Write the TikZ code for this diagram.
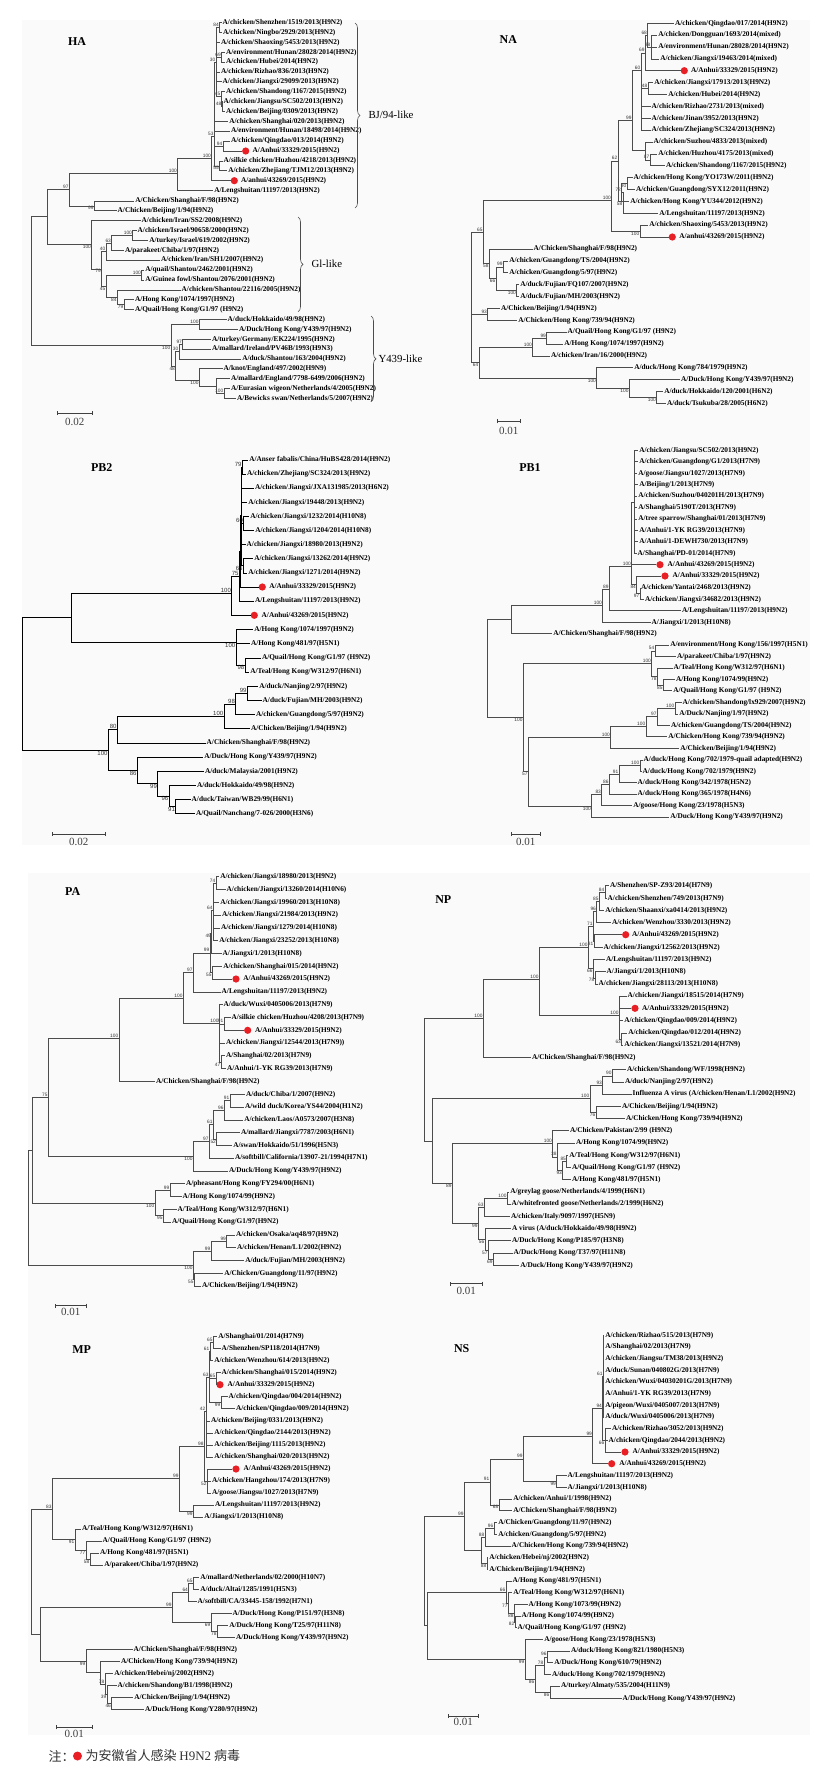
\documentclass[tikz,border=0pt]{standalone}
\usepackage{fontspec}
\setmainfont{Liberation Serif}
\setsansfont{Liberation Sans}
\newfontfamily\cjk{Noto Sans CJK SC}
\usetikzlibrary{arrows.meta,decorations.pathreplacing}
\definecolor{dotred}{RGB}{232,32,38}
\definecolor{panelbg}{RGB}{250,250,250}
\tikzset{
  lbl/.style={anchor=west,inner xsep=0.8pt,inner ysep=0.4pt,font=\bfseries\fontsize{7.3}{8}\selectfont},
  reddot/.style={circle,fill=dotred,inner sep=0pt,minimum size=7.2pt},
  brch/.style={draw=black!70,line width=0.6pt},
  bs/.style={font=\sffamily\fontsize{4.8}{5}\selectfont,inner sep=0.6pt,text=black!80},
  bsa/.style={label={[bs]above left:#1}},
  bsb/.style={label={[bs]below left:#1}},
  ptitle/.style={font=\bfseries\fontsize{12}{14}\selectfont},
  clade/.style={anchor=west,font=\fontsize{10.8}{12}\selectfont},
  brc/.style={draw=black!70,line width=0.6pt,decorate,decoration={brace,amplitude=5pt}},
  sbar/.style={draw=black!75,line width=0.8pt,arrows={Bar[width=4pt]-Bar[width=4pt]}},
  sblbl/.style={font=\fontsize{11}{12}\selectfont,text=black!75},
}
% leaf, red-dot leaf, inner node, branches, scale bar
\newcommand\lf[4]{\node[lbl] (#1) at (#2,#3) {#4};}
\newcommand\rdl[5]{\node[reddot] (#1) at (#2,#4) {};\node[lbl] (#1t) at (#3,#4) {#5};}
\newcommand\nd[4]{\coordinate[#4] (#1) at (#2,#3);}
\newcommand\br[2]{\foreach \kid in {#2}{\draw[brch] (#1) |- (\kid);}}
\newcommand\sbr[6]{\coordinate (#1a) at (#2,#4);\coordinate (#1b) at (#3,#4);
  \draw[sbar] (#1a) -- (#1b);\node[sblbl] (#1l) at ({(#2+#3)/2},#5) {#6};}

\begin{document}
\begin{tikzpicture}[x=1pt,y=-1pt]
\useasboundingbox (0,0) rectangle (833,1775);
\fill[panelbg] (22,20) rectangle (810,845);
\fill[panelbg] (27.7,873) rectangle (810,1735);

%% HA
\node[ptitle] (haT) at (77,42) {HA};
\lf{ha1}{221.7}{22.7}{A/chicken/Shenzhen/1519/2013(H9N2)}
\lf{ha2}{222}{32.3}{A/chicken/Ningbo/2929/2013(H9N2)}
\lf{ha3}{220}{42.3}{A/chicken/Shaoxing/5453/2013(H9N2)}
\lf{ha4}{225}{52.3}{A/environment/Hunan/28028/2014(H9N2)}
\lf{ha5}{225}{62}{A/chicken/Hubei/2014(H9N2)}
\lf{ha6}{220}{72}{A/chicken/Rizhao/836/2013(H9N2)}
\lf{ha7}{221.7}{81.7}{A/chicken/Jiangxi/29099/2013(H9N2)}
\lf{ha8}{225}{91.7}{A/chicken/Shandong/1167/2015(H9N2)}
\lf{ha9}{222.7}{101.3}{A/chicken/Jiangsu/SC502/2013(H9N2)}
\lf{ha10}{225}{111.3}{A/chicken/Beijing/0309/2013(H9N2)}
\lf{ha11}{228.3}{121.3}{A/chicken/Shanghai/020/2013(H9N2)}
\lf{ha12}{230}{131}{A/environment/Hunan/18498/2014(H9N2)}
\lf{ha13}{230}{141}{A/chicken/Qingdao/013/2014(H9N2)}
\rdl{ha14}{245.7}{251.7}{151}{A/Anhui/33329/2015(H9N2)}
\lf{ha15}{222.7}{161}{A/silkie chicken/Huzhou/4218/2013(H9N2)}
\lf{ha16}{227.3}{170.7}{A/chicken/Zhejiang/TJM12/2013(H9N2)}
\rdl{ha17}{234.3}{240}{180.7}{A/anhui/43269/2015(H9N2)}
\lf{ha18}{213.3}{190.7}{A/Lengshuitan/11197/2013(H9N2)}
\lf{ha19}{134.3}{201}{A/Chicken/Shanghai/F/98(H9N2)}
\lf{ha20}{116.7}{210.7}{A/Chicken/Beijing/1/94(H9N2)}
\lf{ha21}{140.7}{220.7}{A/chicken/Iran/SS2/2008(H9N2)}
\lf{ha22}{136.7}{230.7}{A/chicken/Israel/90658/2000(H9N2)}
\lf{ha23}{148.3}{240.3}{A/turkey/Israel/619/2002(H9N2)}
\lf{ha24}{124}{250.3}{A/parakeet/Chiba/1/97(H9N2)}
\lf{ha25}{160}{260}{A/chicken/Iran/SH1/2007(H9N2)}
\lf{ha26}{144.3}{270}{A/quail/Shantou/2462/2001(H9N2)}
\lf{ha27}{144.3}{280}{A/Guinea fowl/Shantou/2076/2001(H9N2)}
\lf{ha28}{180.7}{290}{A/chicken/Shantou/22116/2005(H9N2)}
\lf{ha29}{134}{299.7}{A/Hong Kong/1074/1997(H9N2)}
\lf{ha30}{134}{309.7}{A/Quail/Hong Kong/G1/97 (H9N2)}
\lf{ha31}{226.7}{319.3}{A/duck/Hokkaido/49/98(H9N2)}
\lf{ha32}{238}{329.3}{A/Duck/Hong Kong/Y439/97(H9N2)}
\lf{ha33}{211}{339.3}{A/turkey/Germany/EK224/1995(H9N2)}
\lf{ha34}{211}{349}{A/mallard/Ireland/PV46B/1993(H9N3)}
\lf{ha35}{241.3}{359}{A/duck/Shantou/163/2004(H9N2)}
\lf{ha36}{222.7}{368.7}{A/knot/England/497/2002(H9N9)}
\lf{ha37}{230}{378.7}{A/mallard/England/7798-6499/2006(H9N2)}
\lf{ha38}{230}{388.7}{A/Eurasian wigeon/Netherlands/4/2005(H9N2)}
\lf{ha39}{236}{398.7}{A/Bewicks swan/Netherlands/5/2007(H9N2)}
\nd{hR}{31}{281}{}
\nd{hA}{47.7}{216.7}{}
\nd{hB}{69.3}{189.3}{bsa=97}
\nd{hC}{177.7}{173.3}{bsa=100}
\nd{hD}{94.3}{205.8}{bsb=99}
\nd{hE}{211.7}{158.3}{bsa=100}
\nd{hF}{214.3}{136}{bsa=53}
\nd{hK}{216}{62}{bsa=30}
\nd{hG}{219.5}{27.5}{bsa=84}
\nd{hH}{221.5}{57.2}{bsa=69}
\nd{hI}{221}{96.5}{bsa=45}
\nd{hJ}{222}{106.3}{bsa=48}
\nd{hM}{223}{146}{bsa=94}
\nd{hL}{219.5}{165.8}{bsb=55}
\nd{hGI}{91.7}{244.3}{bsb=100}
\nd{hO1}{132.7}{235.5}{bsa=100}
\nd{hO2}{111.7}{243}{bsa=63}
\nd{hO3}{106}{251.5}{bsa=40}
\nd{hO4}{101.7}{268.8}{bsb=79}
\nd{hO5}{106}{286}{bsb=45}
\nd{hO6}{124}{304.7}{bsb=79}
\nd{hO7}{117.3}{297.3}{bsb=84}
\nd{hO8}{141.7}{275}{bsa=100}
\nd{hY}{171}{345}{bsb=100}
\nd{hY1}{199.3}{324.3}{bsa=100}
\nd{hY2}{182.7}{344.2}{bsa=97}
\nd{hY3}{179}{351.6}{bsa=30}
\nd{hYb}{175.7}{366}{bsb=48}
\nd{hY5}{199.3}{380}{bsb=100}
\nd{hY6}{216.7}{386}{}
\nd{hY7}{224}{393.7}{bsa=100}
\br{hR}{hA,hY}
\br{hA}{hB,hGI}
\br{hB}{hC,hD}
\br{hC}{hE,ha18}
\br{hD}{ha19,ha20}
\br{hE}{hF,ha17}
\br{hF}{hK,ha11,ha12,hM,hL}
\br{hK}{hG,ha3,hH,ha6,ha7,hI}
\br{hG}{ha1,ha2}
\br{hH}{ha4,ha5}
\br{hI}{ha8,hJ}
\br{hJ}{ha9,ha10}
\br{hM}{ha13,ha14}
\br{hL}{ha15,ha16}
\br{hGI}{ha21,hO4}
\br{hO4}{hO3,hO5}
\br{hO3}{hO2,ha25}
\br{hO2}{hO1,ha24}
\br{hO1}{ha22,ha23}
\br{hO5}{hO8,hO7}
\br{hO8}{ha26,ha27}
\br{hO7}{ha28,hO6}
\br{hO6}{ha29,ha30}
\br{hY}{hY1,hYb}
\br{hY1}{ha31,ha32}
\br{hYb}{hY3,hY5}
\br{hY3}{hY2,ha35}
\br{hY2}{ha33,ha34}
\br{hY5}{ha36,hY6}
\br{hY6}{ha37,hY7}
\br{hY7}{ha38,ha39}
\coordinate (bjA) at (355,23); \coordinate (bjB) at (355,208);
\draw[brc] (bjA) -- (bjB);
\node[clade] (bjL) at (365,115) {BJ/94-like};
\coordinate (giA) at (298,217); \coordinate (giB) at (298,311.7);
\draw[brc] (giA) -- (giB);
\node[clade] (giL) at (308,264.3) {Gl-like};
\coordinate (yA) at (371,316); \coordinate (yB) at (371,401.7);
\draw[brc] (yA) -- (yB);
\node[clade] (yL) at (375,359) {Y439-like};
\sbr{haS}{57.3}{92.3}{413}{422.3}{0.02}

%% NA
\node[ptitle] (naT) at (508.3,39.3) {NA};
\lf{na1}{674}{23.3}{A/chicken/Qingdao/017/2014(H9N2)}
\lf{na2}{657.3}{35}{A/chicken/Dongguan/1693/2014(mixed)}
\lf{na3}{657.3}{47}{A/environment/Hunan/28028/2014(H9N2)}
\lf{na4}{659.3}{59}{A/chicken/Jiangxi/19463/2014(mixed)}
\rdl{na5}{684.3}{690}{70.7}{A/Anhui/33329/2015(H9N2)}
\lf{na6}{653.3}{82.3}{A/chicken/Jiangxi/17913/2013(H9N2)}
\lf{na7}{667.3}{94.7}{A/chicken/Hubei/2014(H9N2)}
\lf{na8}{650.7}{106.7}{A/chicken/Rizhao/2731/2013(mixed)}
\lf{na9}{650.7}{118.3}{A/chicken/Jinan/3952/2013(H9N2)}
\lf{na10}{650.7}{130}{A/chicken/Zhejiang/SC324/2013(H9N2)}
\lf{na11}{652.7}{142}{A/chicken/Suzhou/4833/2013(mixed)}
\lf{na12}{657.3}{154}{A/chicken/Huzhou/4175/2013(mixed)}
\lf{na13}{665}{165.7}{A/chicken/Shandong/1167/2015(H9N2)}
\lf{na14}{632.7}{177.7}{A/chicken/Hong Kong/YO173W/2011(H9N2)}
\lf{na15}{635}{189.7}{A/chicken/Guangdong/SYX12/2011(H9N2)}
\lf{na16}{629.3}{201.7}{A/chicken/Hong Kong/YU344/2012(H9N2)}
\lf{na17}{658.3}{213.3}{A/Lengshuitan/11197/2013(H9N2)}
\lf{na18}{648.3}{225}{A/chicken/Shaoxing/5453/2013(H9N2)}
\rdl{na19}{672.3}{678.3}{237}{A/anhui/43269/2015(H9N2)}
\lf{na20}{532.7}{249}{A/Chicken/Shanghai/F/98(H9N2)}
\lf{na21}{508.3}{261}{A/chicken/Guangdong/TS/2004(H9N2)}
\lf{na22}{508.3}{272.7}{A/chicken/Guangdong/5/97(H9N2)}
\lf{na23}{519.3}{284.3}{A/duck/Fujian/FQ107/2007(H9N2)}
\lf{na24}{519.3}{296.3}{A/duck/Fujian/MH/2003(H9N2)}
\lf{na25}{500}{308.3}{A/Chicken/Beijing/1/94(H9N2)}
\lf{na26}{517.3}{320.3}{A/Chicken/Hong Kong/739/94(H9N2)}
\lf{na27}{566.7}{332}{A/Quail/Hong Kong/G1/97 (H9N2)}
\lf{na28}{563.3}{344}{A/Hong Kong/1074/1997(H9N2)}
\lf{na29}{550}{356}{A/chicken/Iran/16/2000(H9N2)}
\lf{na30}{633.3}{367.7}{A/duck/Hong Kong/784/1979(H9N2)}
\lf{na31}{680}{379.7}{A/Duck/Hong Kong/Y439/97(H9N2)}
\lf{na32}{663.3}{391.7}{A/duck/Hokkaido/120/2001(H6N2)}
\lf{na33}{666}{403.3}{A/duck/Tsukuba/28/2005(H6N2)}
\nd{nR}{471.7}{300}{}
\nd{nP1}{483.3}{232}{bsa=65}
\nd{nQ1}{611.7}{200}{bsa=100}
\nd{nS1}{618}{160.8}{bsa=62}
\nd{nT2}{632.3}{120}{bsa=99}
\nd{nU1}{641}{70}{bsa=60}
\nd{nU6}{645.3}{52.8}{bsa=69}
\nd{nU4}{647.7}{35}{bsa=68}
\nd{nU5}{651}{47}{bsa=98}
\nd{nU7}{648}{88.5}{bsa=48}
\nd{nU2}{645}{150}{}
\nd{nU3}{650}{159.8}{bsa=87}
\nd{nT4}{623}{201.7}{bsb=58}
\nd{nT3}{621.7}{192.7}{bsa=72}
\nd{nT5}{627}{183.7}{bsb=90}
\nd{nS2}{640}{231}{bsb=100}
\nd{nQ2}{489.3}{263.7}{bsb=58}
\nd{nQ3}{496}{278.5}{bsb=66}
\nd{nQ4}{503.3}{266.8}{bsa=99}
\nd{nQ5}{516.7}{290.3}{bsb=100}
\nd{nP5}{487.7}{314.3}{bsa=93}
\nd{nP2}{479}{362.5}{bsb=64}
\nd{nP3}{532.7}{347}{bsa=100}
\nd{nP6}{546.7}{338}{bsa=99}
\nd{nP4}{596.7}{378.2}{bsb=100}
\nd{nP7}{629.3}{388.6}{bsb=100}
\nd{nP8}{656.7}{397.5}{bsb=100}
\br{nR}{nP1,nP5,nP2}
\br{nP1}{nQ1,nQ2}
\br{nQ1}{nS1,nS2}
\br{nS1}{nT2,nT4}
\br{nT2}{nU1,nU2}
\br{nU1}{nU6,nU7,na8,na9,na10}
\br{nU6}{nU4,na5}
\br{nU4}{na1,nU5}
\br{nU5}{na2,na3,na4}
\br{nU7}{na6,na7}
\br{nU2}{na11,nU3}
\br{nU3}{na12,na13}
\br{nT4}{nT3,na17}
\br{nT3}{nT5,na16}
\br{nT5}{na14,na15}
\br{nS2}{na18,na19}
\br{nQ2}{na20,nQ3}
\br{nQ3}{nQ4,nQ5}
\br{nQ4}{na21,na22}
\br{nQ5}{na23,na24}
\br{nP5}{na25,na26}
\br{nP2}{nP3,nP4}
\br{nP3}{nP6,na29}
\br{nP6}{na27,na28}
\br{nP4}{na30,nP7}
\br{nP7}{na31,nP8}
\br{nP8}{na32,na33}
\sbr{naS}{496.7}{520.7}{421.3}{431}{0.01}

%% PB2
\begin{scope}[brch/.style={draw=black,line width=1pt},bs/.style={font=\sffamily\fontsize{6}{6}\selectfont,inner sep=0.6pt,text=black!80}]
\node[ptitle] (pbT) at (101.7,467.3) {PB2};
\lf{pb1}{248.3}{460}{A/Anser fabalis/China/HuBS428/2014(H9N2)}
\lf{pb2}{246}{474}{A/chicken/Zhejiang/SC324/2013(H9N2)}
\lf{pb3}{254}{488}{A/chicken/Jiangxi/JXA131985/2013(H6N2)}
\lf{pb4}{247.3}{502.3}{A/chicken/Jiangxi/19448/2013(H9N2)}
\lf{pb5}{249.3}{516.3}{A/chicken/Jiangxi/1232/2014(H10N8)}
\lf{pb6}{254.3}{530.3}{A/chicken/Jiangxi/1204/2014(H10N8)}
\lf{pb7}{245.7}{544.7}{A/chicken/Jiangxi/18980/2013(H9N2)}
\lf{pb8}{253.3}{558.7}{A/chicken/Jiangxi/13262/2014(H9N2)}
\lf{pb9}{247.3}{573}{A/chicken/Jiangxi/1271/2014(H9N2)}
\rdl{pb10}{262.3}{268.3}{587}{A/Anhui/33329/2015(H9N2)}
\lf{pb11}{254}{601}{A/Lengshuitan/11197/2013(H9N2)}
\rdl{pb12}{254.3}{260.7}{615.3}{A/Anhui/43269/2015(H9N2)}
\lf{pb13}{253.3}{629.3}{A/Hong Kong/1074/1997(H9N2)}
\lf{pb14}{250}{643.7}{A/Hong Kong/481/97(H5N1)}
\lf{pb15}{261}{658}{A/Quail/Hong Kong/G1/97 (H9N2)}
\lf{pb16}{249.3}{672}{A/Teal/Hong Kong/W312/97(H6N1)}
\lf{pb17}{258.3}{686.3}{A/duck/Nanjing/2/97(H9N2)}
\lf{pb18}{261.7}{700.3}{A/duck/Fujian/MH/2003(H9N2)}
\lf{pb19}{255}{714.7}{A/chicken/Guangdong/5/97(H9N2)}
\lf{pb20}{250}{728.7}{A/Chicken/Beijing/1/94(H9N2)}
\lf{pb21}{205.7}{743}{A/Chicken/Shanghai/F/98(H9N2)}
\lf{pb22}{203.3}{757}{A/Duck/Hong Kong/Y439/97(H9N2)}
\lf{pb23}{204}{771.3}{A/duck/Malaysia/2001(H9N2)}
\lf{pb24}{196}{785.3}{A/duck/Hokkaido/49/98(H9N2)}
\lf{pb25}{190.7}{799.7}{A/duck/Taiwan/WB29/99(H6N1)}
\lf{pb26}{195}{813.7}{A/Quail/Nanchang/7-026/2000(H3N6)}
\nd{bR}{22.3}{683.8}{}
\nd{bA1}{71.7}{617.7}{}
\nd{bA2}{231.7}{593}{bsa=100}
\nd{bA4}{239.3}{576}{bsa=75}
\nd{bA5}{240.7}{551}{}
\nd{bA6}{241.7}{515}{}
\nd{bA0}{242.3}{467}{bsa=79}
\nd{bA8}{243.7}{523.3}{bsa=60}
\nd{bA9}{243.3}{565.8}{bsb=66}
\nd{bA3}{236}{642.3}{bsb=100}
\nd{bA11}{245}{665}{bsb=98}
\nd{bB1}{108.3}{750}{bsb=100}
\nd{bB2}{117.3}{729.5}{bsa=80}
\nd{bB3}{224}{716}{bsa=100}
\nd{bB4}{235.7}{704}{bsa=98}
\nd{bB5}{247.3}{693.3}{bsa=99}
\nd{bB6}{137.3}{770.3}{bsb=86}
\nd{bB7}{157.7}{783.7}{bsb=99}
\nd{bB8}{169}{796}{bsb=96}
\nd{bB9}{175.7}{806.7}{bsb=91}
\br{bR}{bA1,bB1}
\br{bA1}{bA2,bA3}
\br{bA2}{bA4,pb12}
\br{bA4}{bA5,pb11}
\br{bA5}{bA6,pb10}
\br{bA6}{bA0,pb3,pb4,bA8,pb7,bA9}
\br{bA0}{pb1,pb2}
\br{bA8}{pb5,pb6}
\br{bA9}{pb8,pb9}
\br{bA3}{pb13,pb14,bA11}
\br{bA11}{pb15,pb16}
\br{bB1}{bB2,bB6}
\br{bB2}{bB3,pb21}
\br{bB3}{bB4,pb20}
\br{bB4}{bB5,pb19}
\br{bB5}{pb17,pb18}
\br{bB6}{pb22,bB7}
\br{bB7}{pb23,bB8}
\br{bB8}{pb24,bB9}
\br{bB9}{pb25,pb26}
\sbr{pbS}{51.7}{105.7}{834}{841.7}{0.02}
\end{scope}

%% PB1
\node[ptitle] (pcT) at (530,467.3) {PB1};
\lf{pc1}{638.3}{450.7}{A/chicken/Jiangsu/SC502/2013(H9N2)}
\lf{pc2}{638.3}{461.5}{A/chicken/Guangdong/G1/2013(H7N9)}
\lf{pc3}{637.3}{473.3}{A/goose/Jiangsu/1027/2013(H7N9)}
\lf{pc4}{638.3}{484.7}{A/Beijing/1/2013(H7N9)}
\lf{pc5}{637.3}{496}{A/chicken/Suzhou/040201H/2013(H7N9)}
\lf{pc6}{637.3}{507.3}{A/Shanghai/5190T/2013(H7N9)}
\lf{pc7}{637.3}{519}{A/tree sparrow/Shanghai/01/2013(H7N9)}
\lf{pc8}{638.3}{530.3}{A/Anhui/1-YK RG39/2013(H7N9)}
\lf{pc9}{638.3}{541.7}{A/Anhui/1-DEWH730/2013(H7N9)}
\lf{pc10}{636.7}{553.3}{A/Shanghai/PD-01/2014(H7N9)}
\rdl{pc11}{660}{666.7}{564.7}{A/Anhui/43269/2015(H9N2)}
\rdl{pc12}{665}{671.7}{576}{A/Anhui/33329/2015(H9N2)}
\lf{pc13}{640}{587.7}{A/chicken/Yantai/2468/2013(H9N2)}
\lf{pc14}{644}{599.3}{A/chicken/Jiangxi/34682/2013(H9N2)}
\lf{pc15}{681}{610.7}{A/Lengshuitan/11197/2013(H9N2)}
\lf{pc16}{650.7}{622.3}{A/Jiangxi/1/2013(H10N8)}
\lf{pc17}{552.3}{633.7}{A/Chicken/Shanghai/F/98(H9N2)}
\lf{pc18}{669.3}{645}{A/environment/Hong Kong/156/1997(H5N1)}
\lf{pc19}{676}{656.7}{A/parakeet/Chiba/1/97(H9N2)}
\lf{pc20}{672.7}{668}{A/Teal/Hong Kong/W312/97(H6N1)}
\lf{pc21}{675}{679.3}{A/Hong Kong/1074/99(H9N2)}
\lf{pc22}{672.3}{690.7}{A/Quail/Hong Kong/G1/97 (H9N2)}
\lf{pc23}{681.7}{702.3}{A/chicken/Shandong/lx929/2007(H9N2)}
\lf{pc24}{678.3}{714}{A/Duck/Nanjing/1/97(H9N2)}
\lf{pc25}{670}{725.3}{A/chicken/Guangdong/TS/2004(H9N2)}
\lf{pc26}{667.3}{736.7}{A/Chicken/Hong Kong/739/94(H9N2)}
\lf{pc27}{679.3}{748.3}{A/Chicken/Beijing/1/94(H9N2)}
\lf{pc28}{642.7}{760}{A/duck/Hong Kong/702/1979-quail adapted(H9N2)}
\lf{pc29}{641.7}{771.3}{A/duck/Hong Kong/702/1979(H9N2)}
\lf{pc30}{636.7}{782.7}{A/duck/Hong Kong/342/1978(H5N2)}
\lf{pc31}{636.7}{794}{A/duck/Hong Kong/365/1978(H4N6)}
\lf{pc32}{632.3}{805.3}{A/goose/Hong Kong/23/1978(H5N3)}
\lf{pc33}{669.3}{817}{A/Duck/Hong Kong/Y439/97(H9N2)}
\nd{cR}{487.3}{668.7}{}
\nd{cC1}{511.7}{619.7}{}
\nd{cC2}{602.7}{605.7}{bsa=100}
\nd{cC3}{609.3}{589}{bsa=89}
\nd{cC4}{631.7}{566}{bsa=100}
\nd{cC5}{634.7}{502}{}
\nd{cC6}{636.7}{584.7}{bsb=84}
\nd{cC7}{640}{593.5}{bsb=97}
\nd{cD1}{523.3}{717.7}{bsb=100}
\nd{cD2}{651.7}{663.7}{bsa=100}
\nd{cD6}{655}{650.8}{bsa=54}
\nd{cD7}{657.3}{676.5}{bsb=78}
\nd{cD8}{663.3}{685}{bsb=85}
\nd{cD4}{528.3}{771.7}{bsb=57}
\nd{cD5}{610.7}{737.5}{bsa=100}
\nd{cD9}{646}{726.7}{bsa=100}
\nd{cD10}{657.3}{716.7}{bsa=97}
\nd{cD11}{675}{708.2}{bsa=100}
\nd{cD3}{591.7}{805.9}{bsb=100}
\nd{cD12}{601.7}{794.7}{bsa=83}
\nd{cD13}{609.3}{784.1}{bsa=86}
\nd{cD14}{619}{774.2}{bsa=91}
\nd{cD15}{640}{765.7}{bsa=100}
\br{cR}{cC1,cD1}
\br{cC1}{cC2,pc17}
\br{cC2}{cC3,pc16}
\br{cC3}{cC4,pc15}
\br{cC4}{cC5,pc11,cC6}
\br{cC5}{pc1,pc2,pc3,pc4,pc5,pc6,pc7,pc8,pc9,pc10}
\br{cC6}{pc12,cC7}
\br{cC7}{pc13,pc14}
\br{cD1}{cD2,cD4}
\br{cD2}{cD6,cD7}
\br{cD6}{pc18,pc19}
\br{cD7}{pc20,cD8}
\br{cD8}{pc21,pc22}
\br{cD4}{cD5,cD3}
\br{cD5}{cD9,pc27}
\br{cD9}{cD10,pc26}
\br{cD10}{cD11,pc25}
\br{cD11}{pc23,pc24}
\br{cD3}{cD12,pc33}
\br{cD12}{cD13,pc32}
\br{cD13}{cD14,pc31}
\br{cD14}{cD15,pc30}
\br{cD15}{pc28,pc29}
\sbr{pcS}{511}{540.7}{834}{841.7}{0.01}

%% PA
\node[ptitle] (paT) at (72.7,891.7) {PA};
\lf{pa1}{219.3}{876.7}{A/chicken/Jiangxi/18980/2013(H9N2)}
\lf{pa2}{225.7}{889.7}{A/chicken/Jiangxi/13260/2014(H10N6)}
\lf{pa3}{219.3}{902.3}{A/chicken/Jiangxi/19960/2013(H10N8)}
\lf{pa4}{221}{915}{A/chicken/Jiangxi/21984/2013(H9N2)}
\lf{pa5}{220}{928}{A/chicken/Jiangxi/1279/2014(H10N8)}
\lf{pa6}{218.3}{940.7}{A/chicken/Jiangxi/23252/2013(H10N8)}
\lf{pa7}{221.7}{953.3}{A/Jiangxi/1/2013(H10N8)}
\lf{pa8}{222.3}{966.3}{A/chicken/Shanghai/015/2014(H9N2)}
\rdl{pa9}{236}{242.3}{979}{A/Anhui/43269/2015(H9N2)}
\lf{pa10}{220.7}{992}{A/Lengshuitan/11197/2013(H9N2)}
\lf{pa11}{222.7}{1004.7}{A/duck/Wuxi/0405006/2013(H7N9)}
\lf{pa12}{230.7}{1017.3}{A/silkie chicken/Huzhou/4208/2013(H7N9)}
\rdl{pa13}{247.7}{254}{1030.3}{A/Anhui/33329/2015(H9N2)}
\lf{pa14}{225}{1043}{A/chicken/Jiangxi/12544/2013(H7N9))}
\lf{pa15}{225}{1055.7}{A/Shanghai/02/2013(H7N9)}
\lf{pa16}{226}{1068.7}{A/Anhui/1-YK RG39/2013(H7N9)}
\lf{pa17}{155}{1081.3}{A/Chicken/Shanghai/F/98(H9N2)}
\lf{pa18}{245}{1094.3}{A/duck/Chiba/1/2007(H9N2)}
\lf{pa19}{244}{1107}{A/wild duck/Korea/YS44/2004(H1N2)}
\lf{pa20}{243.3}{1120}{A/chicken/Laos/A0573/2007(H3N8)}
\lf{pa21}{240}{1132.7}{A/mallard/Jiangxi/7787/2003(H6N1)}
\lf{pa22}{232.3}{1145.3}{A/swan/Hokkaido/51/1996(H5N3)}
\lf{pa23}{234}{1158}{A/softbill/California/13907-21/1994(H7N1)}
\lf{pa24}{228}{1171}{A/Duck/Hong Kong/Y439/97(H9N2)}
\lf{pa25}{185}{1183.7}{A/pheasant/Hong Kong/FY294/00(H6N1)}
\lf{pa26}{181.7}{1196.7}{A/Hong Kong/1074/99(H9N2)}
\lf{pa27}{176.7}{1209.3}{A/Teal/Hong Kong/W312/97(H6N1)}
\lf{pa28}{171}{1222}{A/Quail/Hong Kong/G1/97(H9N2)}
\lf{pa29}{235}{1235}{A/chicken/Osaka/aq48/97(H9N2)}
\lf{pa30}{236}{1247.7}{A/chicken/Henan/L1/2002(H9N2)}
\lf{pa31}{244.3}{1260.7}{A/duck/Fujian/MH/2003(H9N2)}
\lf{pa32}{223.3}{1273.3}{A/Chicken/Guangdong/11/97(H9N2)}
\lf{pa33}{201}{1286}{A/Chicken/Beijing/1/94(H9N2)}
\nd{aR}{28.3}{1207.5}{}
\nd{aE1}{32.3}{1150.3}{}
\nd{aE2}{48.3}{1097.7}{bsa=75}
\nd{aE5}{119}{1038.7}{bsa=100}
\nd{aE7}{183.3}{997.9}{bsa=100}
\nd{aE8}{193.3}{972.4}{bsa=97}
\nd{aE10}{210}{952.8}{bsa=99}
\nd{aE13}{211.7}{933}{bsb=49}
\nd{aE12}{213.3}{910}{bsa=64}
\nd{aE11}{216}{883.2}{bsa=74}
\nd{aE14}{212.3}{972.7}{bsb=55}
\nd{aE9}{219.3}{1023.3}{bsa=100}
\nd{aE15}{224}{1023.8}{bsa=91}
\nd{aE16}{221}{1062.2}{bsb=47}
\nd{aE6}{193.3}{1156}{bsb=100}
\nd{aE17}{209.3}{1141}{bsa=97}
\nd{aE18}{213.3}{1124.7}{bsa=61}
\nd{aE19}{224.3}{1110.3}{bsa=96}
\nd{aE21}{230}{1100.7}{bsa=91}
\nd{aE20}{216.7}{1139}{bsb=52}
\nd{aE3}{155}{1203}{bsb=100}
\nd{aE22}{170}{1190.2}{bsa=99}
\nd{aE23}{163.3}{1215.7}{bsb=95}
\nd{aE4}{193.3}{1265}{bsb=100}
\nd{aE24}{211}{1251}{bsa=99}
\nd{aE25}{226.7}{1241.3}{bsa=99}
\nd{aE26}{194.3}{1279.7}{bsb=55}
\br{aR}{aE1,aE4}
\br{aE1}{aE2,aE3}
\br{aE2}{aE5,aE6}
\br{aE5}{aE7,pa17}
\br{aE7}{aE8,aE9}
\br{aE8}{aE10,pa10}
\br{aE10}{aE13,aE14}
\br{aE13}{aE12,pa7}
\br{aE12}{aE11,pa3,pa4,pa5,pa6}
\br{aE11}{pa1,pa2}
\br{aE14}{pa8,pa9}
\br{aE9}{pa11,aE15,pa14,aE16}
\br{aE15}{pa12,pa13}
\br{aE16}{pa15,pa16}
\br{aE6}{aE17,pa24}
\br{aE17}{aE18,pa23}
\br{aE18}{aE19,aE20}
\br{aE19}{aE21,pa20}
\br{aE21}{pa18,pa19}
\br{aE20}{pa21,pa22}
\br{aE3}{aE22,aE23}
\br{aE22}{pa25,pa26}
\br{aE23}{pa27,pa28}
\br{aE4}{aE24,aE26}
\br{aE24}{aE25,pa31}
\br{aE25}{pa29,pa30}
\br{aE26}{pa32,pa33}
\sbr{paS}{55}{86.7}{1305.7}{1312.3}{0.01}

%% NP
\node[ptitle] (npT) at (443.3,899.3) {NP};
\lf{np1}{609}{885.7}{A/Shenzhen/SP-Z93/2014(H7N9)}
\lf{np2}{606.7}{898.3}{A/chicken/Shenzhen/749/2013(H7N9)}
\lf{np3}{604.3}{910.3}{A/chicken/Shaanxi/xa0414/2013(H9N2)}
\lf{np4}{611}{922.3}{A/chicken/Wenzhou/3330/2013(H9N2)}
\rdl{np5}{625.7}{631}{934.7}{A/Anhui/43269/2015(H9N2)}
\lf{np6}{602.7}{947.3}{A/chicken/Jiangxi/12562/2013(H9N2)}
\lf{np7}{605}{959.3}{A/Lengshuitan/11197/2013(H9N2)}
\lf{np8}{605.7}{971.7}{A/Jiangxi/1/2013(H10N8)}
\lf{np9}{597.7}{984}{A/chicken/Jiangxi/28113/2013(H10N8)}
\lf{np10}{626.7}{996}{A/chicken/Jiangxi/18515/2014(H7N9)}
\rdl{np11}{635}{641}{1008.3}{A/Anhui/33329/2015(H9N2)}
\lf{np12}{623.3}{1020.7}{A/chicken/Qingdao/009/2014(H9N2)}
\lf{np13}{627.3}{1033}{A/chicken/Qingdao/012/2014(H9N2)}
\lf{np14}{623.3}{1045}{A/chicken/Jiangxi/13521/2014(H7N9)}
\lf{np15}{531}{1057.3}{A/Chicken/Shanghai/F/98(H9N2)}
\lf{np16}{626}{1069.7}{A/chicken/Shandong/WF/1998(H9N2)}
\lf{np17}{624}{1082}{A/duck/Nanjing/2/97(H9N2)}
\lf{np18}{631.7}{1094}{Influenza A virus (A/chicken/Henan/L1/2002(H9N2)}
\lf{np19}{621}{1106.3}{A/Chicken/Beijing/1/94(H9N2)}
\lf{np20}{625}{1118.7}{A/Chicken/Hong Kong/739/94(H9N2)}
\lf{np21}{569}{1130.7}{A/Chicken/Pakistan/2/99 (H9N2)}
\lf{np22}{575}{1143}{A/Hong Kong/1074/99(H9N2)}
\lf{np23}{568.3}{1155.3}{A/Teal/Hong Kong/W312/97(H6N1)}
\lf{np24}{571}{1167.3}{A/Quail/Hong Kong/G1/97 (H9N2)}
\lf{np25}{571}{1179.7}{A/Hong Kong/481/97(H5N1)}
\lf{np26}{509.3}{1192}{A/greylag goose/Netherlands/4/1999(H6N1)}
\lf{np27}{510.7}{1204}{A/whitefronted goose/Netherlands/2/1999(H6N2)}
\lf{np28}{510}{1216.3}{A/chicken/Italy/9097/1997(H5N9)}
\lf{np29}{511}{1228.7}{A virus (A/duck/Hokkaido/49/98(H9N2)}
\lf{np30}{511}{1240.7}{A/Duck/Hong Kong/P185/97(H3N8)}
\lf{np31}{512.7}{1253}{A/Duck/Hong Kong/T37/97(H11N8)}
\lf{np32}{519.3}{1265.7}{A/Duck/Hong Kong/Y439/97(H9N2)}
\nd{pR}{424}{1079.7}{}
\nd{pF1}{483.3}{1018.4}{bsa=100}
\nd{pF2}{539.3}{979.5}{bsa=100}
\nd{pF3}{588.3}{947.5}{bsa=100}
\nd{pF10}{593.3}{926.3}{bsa=71}
\nd{pF9}{596.7}{911.7}{bsa=96}
\nd{pF8}{599.3}{901.2}{bsa=85}
\nd{pF7}{605}{892}{bsa=84}
\nd{pF11}{594}{941}{bsb=81}
\nd{pF12}{593.3}{968.6}{bsb=66}
\nd{pF13}{595}{977.8}{bsb=78}
\nd{pF4}{619.3}{1015}{bsa=100}
\nd{pF14}{621.7}{1039}{bsb=63}
\nd{pG1}{432.7}{1141}{}
\nd{pG2}{590}{1098.7}{bsa=100}
\nd{pG4}{602.7}{1084.9}{bsa=93}
\nd{pG6}{612.3}{1075.8}{bsa=90}
\nd{pG5}{596}{1112.5}{bsb=76}
\nd{pG3}{452.3}{1183.5}{bsb=89}
\nd{pG7}{552.7}{1143.7}{bsa=100}
\nd{pG9}{557.3}{1156.8}{bsa=38}
\nd{pG11}{562.7}{1170.5}{bsb=93}
\nd{pG10}{566.7}{1161.3}{bsa=85}
\nd{pG12}{478.3}{1223.3}{bsb=99}
\nd{pG14}{484.3}{1207.2}{bsa=63}
\nd{pG13}{507.3}{1198}{bsa=100}
\nd{pG15}{485}{1239.4}{bsb=56}
\nd{pG16}{488.3}{1250}{bsb=57}
\nd{pG17}{493.3}{1259.4}{bsb=69}
\br{pR}{pF1,pG1}
\br{pF1}{pF2,np15}
\br{pF2}{pF3,pF4}
\br{pF3}{pF10,pF12}
\br{pF10}{pF9,pF11}
\br{pF9}{pF8,np4}
\br{pF8}{pF7,np3}
\br{pF7}{np1,np2}
\br{pF11}{np5,np6}
\br{pF12}{np7,pF13}
\br{pF13}{np8,np9}
\br{pF4}{np10,np11,np12,pF14}
\br{pF14}{np13,np14}
\br{pG1}{pG2,pG3}
\br{pG2}{pG4,pG5}
\br{pG4}{pG6,np18}
\br{pG6}{np16,np17}
\br{pG5}{np19,np20}
\br{pG3}{pG7,pG12}
\br{pG7}{np21,pG9}
\br{pG9}{np22,pG11}
\br{pG11}{pG10,np25}
\br{pG10}{np23,np24}
\br{pG12}{pG14,pG15}
\br{pG14}{pG13,np28}
\br{pG13}{np26,np27}
\br{pG15}{np29,pG16}
\br{pG16}{np30,pG17}
\br{pG17}{np31,np32}
\sbr{npS}{450}{482.3}{1283.7}{1291}{0.01}

%% MP
\node[ptitle] (mpT) at (81.7,1350) {MP};
\lf{mp1}{217.3}{1336.7}{A/Shanghai/01/2014(H7N9)}
\lf{mp2}{220.7}{1348.7}{A/Shenzhen/SP118/2014(H7N9)}
\lf{mp3}{213.3}{1360.7}{A/chicken/Wenzhou/614/2013(H9N2)}
\lf{mp4}{220.7}{1372.7}{A/chicken/Shanghai/015/2014(H9N2)}
\rdl{mp5}{220}{226.7}{1384.7}{A/Anhui/33329/2015(H9N2)}
\lf{mp6}{227.7}{1396.7}{A/chicken/Qingdao/004/2014(H9N2)}
\lf{mp7}{235}{1408.7}{A/chicken/Qingdao/009/2014(H9N2)}
\lf{mp8}{210}{1421}{A/chicken/Beijing/0331/2013(H9N2)}
\lf{mp9}{213.3}{1433}{A/chicken/Qingdao/2144/2013(H9N2)}
\lf{mp10}{213.3}{1445}{A/chicken/Beijing/1115/2013(H9N2)}
\lf{mp11}{213.3}{1457}{A/chicken/Shanghai/020/2013(H9N2)}
\rdl{mp12}{236}{242.7}{1469}{A/Anhui/43269/2015(H9N2)}
\lf{mp13}{211}{1481}{A/chicken/Hangzhou/174/2013(H7N9)}
\lf{mp14}{211}{1493}{A/goose/Jiangsu/1027/2013(H7N9)}
\lf{mp15}{214}{1505}{A/Lengshuitan/11197/2013(H9N2)}
\lf{mp16}{203.3}{1517}{A/Jiangxi/1/2013(H10N8)}
\lf{mp17}{81}{1529}{A/Teal/Hong Kong/W312/97(H6N1)}
\lf{mp18}{101.7}{1541}{A/Quail/Hong Kong/G1/97 (H9N2)}
\lf{mp19}{99}{1553}{A/Hong Kong/481/97(H5N1)}
\lf{mp20}{103.3}{1565}{A/parakeet/Chiba/1/97(H9N2)}
\lf{mp21}{199.3}{1577.3}{A/mallard/Netherlands/02/2000(H10N7)}
\lf{mp22}{199.3}{1589.3}{A/duck/Altai/1285/1991(H5N3)}
\lf{mp23}{196.7}{1601.3}{A/softbill/CA/33445-158/1992(H7N1)}
\lf{mp24}{231.7}{1613.3}{A/Duck/Hong Kong/P151/97(H3N8)}
\lf{mp25}{228.3}{1625.3}{A/Duck/Hong Kong/T25/97(H11N8)}
\lf{mp26}{235}{1637.3}{A/Duck/Hong Kong/Y439/97(H9N2)}
\lf{mp27}{132.7}{1649.3}{A/Chicken/Shanghai/F/98(H9N2)}
\lf{mp28}{120}{1661.3}{A/Chicken/Hong Kong/739/94(H9N2)}
\lf{mp29}{113.3}{1673.3}{A/chicken/Hebei/nj/2002(H9N2)}
\lf{mp30}{116.7}{1685.3}{A/chicken/Shandong/B1/1998(H9N2)}
\lf{mp31}{133.3}{1697.3}{A/Chicken/Beijing/1/94(H9N2)}
\lf{mp32}{144}{1709.7}{A/Duck/Hong Kong/Y280/97(H9N2)}
\nd{mR}{31.7}{1571.6}{}
\nd{mH1}{52.3}{1509}{bsa=83}
\nd{mH3}{179.3}{1478.5}{bsa=99}
\nd{mH5}{204.3}{1446}{bsa=98}
\nd{mH13}{206}{1411}{bsa=42}
\nd{mH12}{209.3}{1377}{bsa=63}
\nd{mH9}{210}{1351.7}{bsa=61}
\nd{mH8}{213.3}{1342.7}{bsa=65}
\nd{mH10}{216}{1378.7}{bsa=65}
\nd{mH11}{221}{1402.7}{bsb=99}
\nd{mH14}{207.3}{1481}{bsb=52}
\nd{mH6}{193.3}{1511}{bsb=99}
\nd{mH4}{75}{1539.5}{bsb=91}
\nd{mH15}{86}{1550}{bsb=77}
\nd{mH16}{90}{1559}{bsb=58}
\nd{mH2}{40}{1634.2}{}
\nd{mH17}{172.3}{1607.3}{bsa=99}
\nd{mH19}{188.7}{1592.3}{bsa=64}
\nd{mH21}{193.3}{1583.3}{bsa=65}
\nd{mH20}{211}{1622.3}{bsb=69}
\nd{mH22}{217.3}{1631.3}{bsb=78}
\nd{mH18}{86}{1661}{bsb=99}
\nd{mH23}{100.7}{1672.6}{}
\nd{mH26}{105}{1683.9}{bsa=78}
\nd{mH25}{107}{1694.4}{bsb=39}
\nd{mH24}{111.7}{1703.5}{bsb=46}
\br{mR}{mH1,mH2}
\br{mH1}{mH3,mH4}
\br{mH3}{mH5,mH6}
\br{mH5}{mH13,mH14}
\br{mH13}{mH12,mp8,mp9,mp10,mp11}
\br{mH12}{mH9,mH10,mH11}
\br{mH9}{mH8,mp3}
\br{mH8}{mp1,mp2}
\br{mH10}{mp4,mp5}
\br{mH11}{mp6,mp7}
\br{mH14}{mp12,mp13,mp14}
\br{mH6}{mp15,mp16}
\br{mH4}{mp17,mH15}
\br{mH15}{mp18,mH16}
\br{mH16}{mp19,mp20}
\br{mH2}{mH17,mH18}
\br{mH17}{mH19,mH20}
\br{mH19}{mH21,mp23}
\br{mH21}{mp21,mp22}
\br{mH20}{mp24,mH22}
\br{mH22}{mp25,mp26}
\br{mH18}{mp27,mH23}
\br{mH23}{mp28,mH26}
\br{mH26}{mp29,mH25}
\br{mH25}{mp30,mH24}
\br{mH24}{mp31,mp32}
\sbr{mpS}{56}{92.3}{1727.3}{1733.5}{0.01}

%% NS
\node[ptitle] (nsT) at (461.7,1349) {NS};
\lf{ns1}{604.3}{1335.3}{A/chicken/Rizhao/515/2013(H7N9)}
\lf{ns2}{604.3}{1347}{A/Shanghai/02/2013(H7N9)}
\lf{ns3}{604.3}{1358.7}{A/chicken/Jiangsu/TM38/2013(H9N2)}
\lf{ns4}{604.3}{1370.3}{A/duck/Sunan/040802G/2013(H7N9)}
\lf{ns5}{604.3}{1382}{A/chicken/Wuxi/04030201G/2013(H7N9)}
\lf{ns6}{604.3}{1393.7}{A/Anhui/1-YK RG39/2013(H7N9)}
\lf{ns7}{604.3}{1405.3}{A/pigeon/Wuxi/0405007/2013(H7N9)}
\lf{ns8}{604.3}{1417}{A/duck/Wuxi/0405006/2013(H7N9)}
\lf{ns9}{611}{1428.7}{A/chicken/Rizhao/3052/2013(H9N2)}
\lf{ns10}{607.7}{1440.3}{A/chicken/Qingdao/2044/2013(H9N2)}
\rdl{ns11}{625}{631.7}{1452}{A/Anhui/33329/2015(H9N2)}
\rdl{ns12}{611.7}{618.3}{1463.7}{A/Anhui/43269/2015(H9N2)}
\lf{ns13}{566.7}{1475.7}{A/Lengshuitan/11197/2013(H9N2)}
\lf{ns14}{566.7}{1487.3}{A/Jiangxi/1/2013(H10N8)}
\lf{ns15}{512.3}{1499}{A/chicken/Anhui/1/1998(H9N2)}
\lf{ns16}{512.3}{1510.7}{A/Chicken/Shanghai/F/98(H9N2)}
\lf{ns17}{497.3}{1522.3}{A/Chicken/Guangdong/11/97(H9N2)}
\lf{ns18}{497.3}{1534.3}{A/chicken/Guangdong/5/97(H9N2)}
\lf{ns19}{510.7}{1546}{A/Chicken/Hong Kong/739/94(H9N2)}
\lf{ns20}{488.3}{1557.7}{A/chicken/Hebei/nj/2002(H9N2)}
\lf{ns21}{488.3}{1569.3}{A/Chicken/Beijing/1/94(H9N2)}
\lf{ns22}{511.7}{1581}{A/Hong Kong/481/97(H5N1)}
\lf{ns23}{512.3}{1592.7}{A/Teal/Hong Kong/W312/97(H6N1)}
\lf{ns24}{527.7}{1604.3}{A/Hong Kong/1073/99(H9N2)}
\lf{ns25}{520.7}{1616}{A/Hong Kong/1074/99(H9N2)}
\lf{ns26}{516.7}{1627.7}{A/Quail/Hong Kong/G1/97 (H9N2)}
\lf{ns27}{543.3}{1639.3}{A/goose/Hong Kong/23/1978(H5N3)}
\lf{ns28}{570}{1651}{A/duck/Hong Kong/821/1980(H5N3)}
\lf{ns29}{553.3}{1662.7}{A/Duck/Hong Kong/610/79(H9N2)}
\lf{ns30}{551}{1674.3}{A/duck/Hong Kong/702/1979(H9N2)}
\lf{ns31}{560}{1686}{A/turkey/Almaty/535/2004(H11N9)}
\lf{ns32}{621.7}{1698.3}{A/Duck/Hong Kong/Y439/97(H9N2)}
\nd{sR}{424}{1570.8}{}
\nd{sI1}{464.3}{1516}{bsa=99}
\nd{sI3}{490}{1481.8}{bsa=91}
\nd{sI5}{523.3}{1458.8}{bsa=99}
\nd{sI7}{592.7}{1436}{bsa=99}
\nd{sI9}{602.7}{1408}{bsa=94}
\nd{sI12}{603.3}{1376.2}{bsa=61}
\nd{sI10}{605}{1440}{bsb=66}
\nd{sI8}{556.7}{1481.5}{bsb=99}
\nd{sI6}{499}{1504.8}{bsb=68}
\nd{sI4}{481.7}{1550.3}{}
\nd{sI14}{485}{1537.2}{bsa=88}
\nd{sI13}{494}{1528.3}{bsa=96}
\nd{sI15}{487}{1563.5}{bsb=88}
\nd{sI2}{427.3}{1625.6}{}
\nd{sI16}{506}{1592}{bsa=66}
\nd{sI18}{508.3}{1602.9}{bsb=77}
\nd{sI19}{514.3}{1613}{bsb=88}
\nd{sI20}{515}{1621.8}{bsb=82}
\nd{sI17}{525}{1659.1}{bsb=99}
\nd{sI22}{535}{1678.9}{bsb=86}
\nd{sI23}{544}{1665.6}{bsa=78}
\nd{sI25}{547.3}{1656.8}{bsa=96}
\nd{sI24}{550}{1692.2}{bsb=86}
\br{sR}{sI1,sI2}
\br{sI1}{sI3,sI4}
\br{sI3}{sI5,sI6}
\br{sI5}{sI7,sI8}
\br{sI7}{sI9,ns12}
\br{sI9}{sI12,sI10}
\br{sI12}{ns1,ns2,ns3,ns4,ns5,ns6,ns7,ns8}
\br{sI10}{ns9,ns10,ns11}
\br{sI8}{ns13,ns14}
\br{sI6}{ns15,ns16}
\br{sI4}{sI14,sI15}
\br{sI14}{sI13,ns19}
\br{sI13}{ns17,ns18}
\br{sI15}{ns20,ns21}
\br{sI2}{sI16,sI17}
\br{sI16}{ns22,sI18}
\br{sI18}{ns23,sI19}
\br{sI19}{ns24,sI20}
\br{sI20}{ns25,ns26}
\br{sI17}{ns27,sI22}
\br{sI22}{sI23,sI24}
\br{sI23}{sI25,ns30}
\br{sI25}{ns28,ns29}
\br{sI24}{ns31,ns32}
\sbr{nsS}{448.3}{478.3}{1716}{1722}{0.01}

%% note
\node[anchor=west,font=\cjk\fontsize{13}{15}\selectfont,text=black!80] (noteA) at (45,1756) {注：};
\node[reddot,minimum size=9pt] (noteD) at (77.5,1756) {};
\node[anchor=west,font=\cjk\fontsize{13}{15}\selectfont,text=black!80] (noteB) at (82,1756) {为安徽省人感染 {\rmfamily H9N2} 病毒};
\end{tikzpicture}
\end{document}
